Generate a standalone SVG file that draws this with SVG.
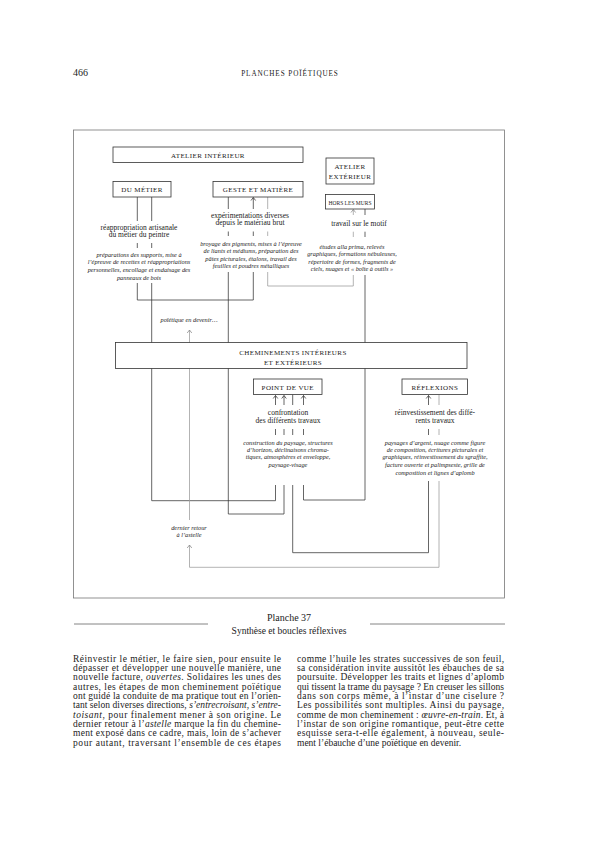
<svg xmlns="http://www.w3.org/2000/svg" width="595" height="841" viewBox="0 0 595 841">
<defs>
<style>
.box{fill:#fff;stroke:#333;stroke-width:0.8}
.ln{fill:none;stroke:#333;stroke-width:0.75}
.lg{fill:none;stroke:#999;stroke-width:0.75}
.lab{font-family:"Liberation Serif",serif;font-size:7px;letter-spacing:0.4px;text-anchor:middle;fill:#222}
.t{font-family:"Liberation Serif",serif;font-size:7.5px;text-anchor:middle;fill:#222}
.it{font-family:"Liberation Serif",serif;font-style:italic;font-size:6.3px;text-anchor:middle;fill:#222}
.body{font-family:"Liberation Serif",serif;font-size:9.5px;fill:#222}
.i{font-style:italic}
</style>
<marker id="ar" viewBox="-4 -4 8 8" refX="0" refY="0" markerWidth="8" markerHeight="8" markerUnits="userSpaceOnUse" orient="auto"><path d="M-3,-2.3 L0,0 L-3,2.3" fill="none" stroke="#333" stroke-width="0.75"/></marker>
<marker id="ag" viewBox="-4 -4 8 8" refX="0" refY="0" markerWidth="8" markerHeight="8" markerUnits="userSpaceOnUse" orient="auto"><path d="M-3,-2.3 L0,0 L-3,2.3" fill="none" stroke="#888" stroke-width="0.75"/></marker>
</defs>
<rect width="595" height="841" fill="#fff"/>
<text x="73" y="76" style="font-family:'Liberation Serif',serif;font-size:10px;fill:#222">466</text>
<text x="290" y="76" style="font-family:'Liberation Serif',serif;font-size:7.2px;letter-spacing:0.9px;text-anchor:middle;fill:#222">PLANCHES POÏÉTIQUES</text>

<rect x="73.5" y="130" width="431" height="468" fill="none" stroke="#777" stroke-width="0.8"/>

<g id="connectors">
<path class="ln" d="M137.3,197 V221 M137.3,243 V248 M137.3,283 V300 H253.3 V272 M253.3,231.5 V236"/>
<path class="ln" d="M253.3,209 V197.5" marker-end="url(#ar)"/>
<path class="ln" d="M151.7,197 V221 M151.7,243 V248 M151.7,283 V500.7 H275.5 V485 M275.5,429 V435"/>
<path class="ln" d="M275.5,405 V395.5" marker-end="url(#ar)"/>
<path class="ln" d="M228.3,197 V209 M228.3,231.5 V236 M228.3,272 V514 H284 V485 M284,429 V435"/>
<path class="ln" d="M284,405 V395.5" marker-end="url(#ar)"/>
<path class="lg" d="M267.7,197 V209 M267.7,231.5 V236 M267.7,272 V286 H353.3 V275 M353.3,231.7 V237"/>
<path class="lg" d="M353.3,215 V209.5" marker-end="url(#ag)"/>
<path class="ln" d="M365,209 V215 M365,231.7 V237 M365,275 V500 H303.5 V485 M303.5,429 V435"/>
<path class="ln" d="M303.5,405 V395.5" marker-end="url(#ar)"/>
<path class="ln" d="M292.7,394.5 V405 M292.7,429 V435 M292.7,485 V552.7 H428.5 V481 M428.5,429 V435"/>
<path class="ln" d="M428.5,405 V395.5" marker-end="url(#ar)"/>
<path class="lg" d="M439,394.5 V405 M439,429 V435"/>
<path class="lg" d="M439,481 V567.3 H189.5 V545" marker-end="url(#ag)"/>
<path class="lg" d="M189.5,520 V330" marker-end="url(#ag)"/>
</g>

<g id="atelier-interieur"><rect class="box" x="113" y="147" width="190" height="15.5"/><text class="lab" x="208" y="157.5">ATELIER INTÉRIEUR</text></g>
<g id="du-metier"><rect class="box" x="113" y="181.5" width="58" height="15.5"/><text class="lab" x="142" y="192">DU MÉTIER</text>
<text class="t" x="139" y="229.5">réappropriation artisanale</text>
<text class="t" x="139" y="237">du métier du peintre</text>
<text class="it" x="139" y="256.5">préparations des supports, mise à</text>
<text class="it" x="139" y="264">l’épreuve de recettes et réappropriations</text>
<text class="it" x="139" y="271.5">personnelles, encollage et endaisage des</text>
<text class="it" x="139" y="279.5">panneaux de bois</text></g>
<g id="geste-matiere"><rect class="box" x="213" y="181.5" width="90" height="15.5"/><text class="lab" x="258" y="192">GESTE ET MATIÈRE</text>
<text class="t" x="250" y="217.5">expérimentations diverses</text>
<text class="t" x="250" y="225">depuis le matériau brut</text>
<text class="it" x="251" y="245.5">broyage des pigments, mises à l’épreuve</text>
<text class="it" x="251" y="253">de liants et médiums, préparation des</text>
<text class="it" x="251" y="260.5">pâtes picturales, étalons, travail des</text>
<text class="it" x="251" y="268">feuilles et poudres métalliques</text></g>
<g id="atelier-exterieur"><rect class="box" x="326" y="158" width="48" height="26"/><text class="lab" x="350" y="169">ATELIER</text><text class="lab" x="350" y="179">EXTÉRIEUR</text></g>
<g id="hors-les-murs"><rect class="box" x="325.5" y="194.5" width="49" height="14.5"/><text class="lab" x="350" y="204.5" style="font-size:6.9px;letter-spacing:0" textLength="43" lengthAdjust="spacingAndGlyphs">HORS LES MURS</text>
<text class="t" x="359" y="225.5">travail sur le motif</text>
<text class="it" x="352" y="248.5">études alla prima, relevés</text>
<text class="it" x="352" y="256">graphiques, formations nébuleuses,</text>
<text class="it" x="352" y="263.5">répertoire de formes, fragments de</text>
<text class="it" x="352" y="271">ciels, nuages et « boîte à outils »</text></g>
<g id="poietique"><text class="it" x="189" y="322">poïétique en devenir…</text></g>
<g id="cheminements"><rect class="box" x="115.5" y="342.5" width="351.5" height="26"/><text class="lab" x="293" y="355">CHEMINEMENTS INTÉRIEURS</text><text class="lab" x="293" y="364.5">ET EXTÉRIEURS</text></g>
<g id="point-de-vue"><rect class="box" x="253.5" y="379" width="68.5" height="15.5"/><text class="lab" x="287.8" y="389.5">POINT DE VUE</text>
<text class="t" x="288" y="415">confrontation</text>
<text class="t" x="288" y="422.5">des différents travaux</text>
<text class="it" x="288" y="444.7">construction du paysage, structures</text>
<text class="it" x="288" y="452">d’horizon, déclinaisons chroma-</text>
<text class="it" x="288" y="459.3">tiques, atmosphères et enveloppe,</text>
<text class="it" x="288" y="467">paysage-visage</text></g>
<g id="reflexions"><rect class="box" x="402" y="379" width="65.5" height="15.5"/><text class="lab" x="434.8" y="389.5">RÉFLEXIONS</text>
<text class="t" x="435" y="415">réinvestissement des diffé-</text>
<text class="t" x="435" y="422.5">rents travaux</text>
<text class="it" x="435" y="444.7">paysages d’argent, nuage comme figure</text>
<text class="it" x="435" y="452">de composition, écritures picturales et</text>
<text class="it" x="435" y="459.3">graphiques, réinvestissement du sgraffite,</text>
<text class="it" x="435" y="467">facture ouverte et palimpseste, grille de</text>
<text class="it" x="435" y="474.7">composition et lignes d’aplomb</text></g>
<g id="dernier-retour"><text class="it" x="189" y="529.5">dernier retour</text><text class="it" x="189" y="537">à l’astelle</text></g>

<path d="M74,624 H208 M370,624 H505" stroke="#666" stroke-width="0.8" fill="none"/>
<text x="289" y="620.5" style="font-family:'Liberation Serif',serif;font-size:10px;text-anchor:middle;fill:#222">Planche 37</text>
<text x="289" y="634" style="font-family:'Liberation Serif',serif;font-size:9.5px;text-anchor:middle;fill:#222">Synthèse et boucles réflexives</text>

<g class="body">
<text x="73" y="661.5" textLength="208" lengthAdjust="spacing">Réinvestir le métier, le faire sien, pour ensuite le</text>
<text x="73" y="670.8" textLength="208" lengthAdjust="spacing">dépasser et développer une nouvelle manière, une</text>
<text x="73" y="680.2" textLength="208" lengthAdjust="spacing">nouvelle facture, <tspan class="i">ouvertes</tspan>. Solidaires les unes des</text>
<text x="73" y="689.5" textLength="208" lengthAdjust="spacing">autres, les étapes de mon cheminement poïétique</text>
<text x="73" y="698.8" textLength="208" lengthAdjust="spacing">ont guidé la conduite de ma pratique tout en l’orien-</text>
<text x="73" y="708.2" textLength="208" lengthAdjust="spacing">tant selon diverses directions, <tspan class="i">s’entrecroisant</tspan>, <tspan class="i">s’entre-</tspan></text>
<text x="73" y="717.5" textLength="208" lengthAdjust="spacing"><tspan class="i">toisant</tspan>, pour finalement mener à son origine. Le</text>
<text x="73" y="726.8" textLength="208" lengthAdjust="spacing">dernier retour à l’<tspan class="i">astelle</tspan> marque la fin du chemine-</text>
<text x="73" y="736.2" textLength="208" lengthAdjust="spacing">ment exposé dans ce cadre, mais, loin de s’achever</text>
<text x="73" y="745.5" textLength="208" lengthAdjust="spacing">pour autant, traversant l’ensemble de ces étapes</text>
<text x="297" y="661.5" textLength="207" lengthAdjust="spacing">comme l’huile les strates successives de son feuil,</text>
<text x="297" y="670.8" textLength="207" lengthAdjust="spacing">sa considération invite aussitôt les ébauches de sa</text>
<text x="297" y="680.2" textLength="207" lengthAdjust="spacing">poursuite. Développer les traits et lignes d’aplomb</text>
<text x="297" y="689.5" textLength="207" lengthAdjust="spacing">qui tissent la trame du paysage ? En creuser les sillons</text>
<text x="297" y="698.8" textLength="207" lengthAdjust="spacing">dans son corps même, à l’instar d’une ciselure ?</text>
<text x="297" y="708.2" textLength="207" lengthAdjust="spacing">Les possibilités sont multiples. Ainsi du paysage,</text>
<text x="297" y="717.5" textLength="207" lengthAdjust="spacing">comme de mon cheminement : <tspan class="i">œuvre-en-train</tspan>. Et, à</text>
<text x="297" y="726.8" textLength="207" lengthAdjust="spacing">l’instar de son origine romantique, peut-être cette</text>
<text x="297" y="736.2" textLength="207" lengthAdjust="spacing">esquisse sera-t-elle également, à nouveau, seule-</text>
<text x="297" y="745.5">ment l’ébauche d’une poïétique en devenir.</text>
</g>
</svg>
